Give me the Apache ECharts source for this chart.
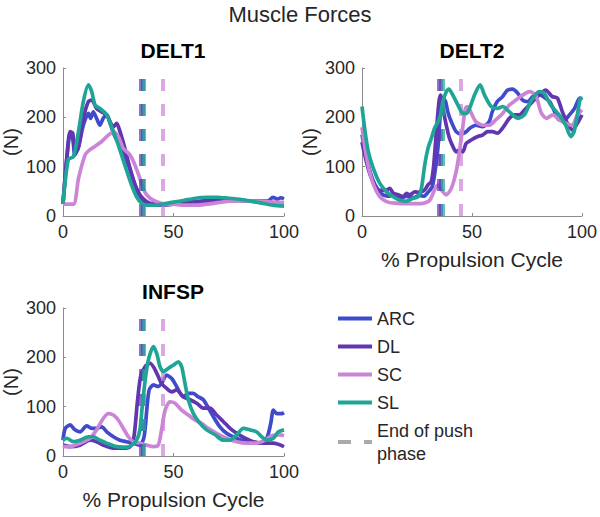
<!DOCTYPE html>
<html>
<head>
<meta charset="utf-8">
<title>Muscle Forces</title>
<script src="https://cdn.jsdelivr.net/npm/echarts@6/dist/echarts.min.js"></script>
<style>
  html, body { margin: 0; padding: 0; background: #fff; }
  #main { width: 600px; height: 517px; }
</style>
</head>
<body>
<div id="main"></div>
<script>
// values: [% propulsion cycle, force (N)]
var muscles = ['DELT1', 'DELT2', 'INFSP'];
var groups = ['ARC', 'DL', 'SC', 'SL'];
var xTicks = [0, 50, 100];
var yTicks = [0, 100, 200, 300];

// end of push phase (% cycle) per group
var pushEnd = [36, 35, 45, 36.5];

var delt1ARC = [[0,24],[1.7,115],[3.2,164],[4.3,160],[5.4,124],[7,140],[9.2,184],[11.5,208],[12.5,198],[13.7,211],[15.2,198],[16.7,184],[18.2,198],[19.8,205],[21.3,188],[23.5,161],[26.5,137],[29.6,103],[32.6,63],[34.8,39],[37,29],[40,24],[45,22],[50,24],[55,26],[60,28],[65,30],[70,30],[75,31],[80,31],[85,30],[90,30],[93,31],[95,38],[97,34],[98.5,37],[100,35]];
var delt1DL = [[0,26],[1.7,117],[3.2,171],[4.4,168],[5.4,130],[6.9,137],[9.2,198],[11.5,232],[13,235],[15.2,218],[17.5,211],[19.8,205],[21.3,191],[22.8,181],[24.3,188],[25.8,171],[28,137],[30.3,97],[32.6,63],[34.8,43],[37,32],[39.4,26],[45,23],[50,24],[55,27],[60,29],[65,31],[70,32],[75,32],[80,32],[85,30],[90,28],[95,27],[100,25]];
var delt1SC = [[0,24],[4.7,24],[7,76],[10,124],[12.1,134],[14.4,141],[17.5,151],[20.5,164],[22.8,170],[25,161],[27.3,137],[30.3,124],[32.6,103],[34.8,76],[37,49],[39.4,36],[42.4,29],[45,25],[50,24],[55,22],[60,22],[65,24],[70,27],[75,30],[80,31],[85,30],[90,29],[95,28],[100,27]];
var delt1SL = [[0,25],[2.4,115],[4.7,120],[7,171],[9.2,232],[11.5,266],[13,252],[14.5,225],[16.7,218],[19.8,205],[22,181],[25,144],[28,103],[31,63],[33.3,39],[35.6,26],[38,22],[42,22],[45,24],[50,28],[55,32],[60,36],[65,38],[70,38],[75,36],[80,34],[85,30],[90,26],[95,22],[100,20]];

var delt2ARC = [[0,165],[2,120],[4,85],[6,62],[8,48],[10,42],[12,40],[14,42],[16,38],[18,36],[20,40],[22,38],[24,38],[26,42],[28,40],[30,48],[32,60],[33.5,100],[34.5,137],[35.6,205],[36.8,239],[38,232],[39,211],[40.6,191],[42.8,171],[45.1,166],[47.4,171],[49,178],[51.8,184],[54.8,181],[57.8,191],[59.2,211],[61.5,232],[63.9,242],[66.1,255],[68.4,257],[70.8,249],[73,235],[75.3,232],[77.6,242],[80,249],[82.3,242],[85.3,232],[87.6,211],[89.6,195],[92.1,195],[94.3,205],[96.6,218],[99,239],[100,238]];
var delt2DL = [[0,150],[2,110],[4,80],[6,62],[8,52],[11.2,53],[12.7,56],[14.2,46],[16.4,43],[18.7,39],[20.2,46],[21.7,43],[24,49],[26.2,48],[28.5,53],[30,63],[31.5,70],[32.6,103],[33.8,171],[35,232],[35.7,245],[36.8,218],[38.3,184],[39.8,157],[41.3,141],[42.8,130],[44.3,134],[45.8,130],[47.3,147],[49.6,154],[52.6,161],[54.8,164],[57.1,171],[59.3,171],[61.6,168],[63.9,178],[67,198],[69.3,205],[71.5,205],[74.5,218],[77.6,232],[80.5,245],[83.5,255],[86.5,242],[88.8,239],[91.1,211],[93.4,188],[95.7,174],[97.9,188],[100,205]];
var delt2SC = [[0,180],[2,120],[4,80],[6,55],[8,40],[10,32],[12,28],[15,26],[20,25],[25,25],[28,26],[30.8,32],[33,53],[34.5,63],[36.8,49],[38.3,43],[40.6,56],[42.8,90],[44.3,130],[45.9,184],[47,218],[48,222],[49.5,210],[51.8,191],[54.8,184],[57.8,184],[60.8,195],[63.9,208],[67,225],[70,235],[73,245],[76.1,252],[79,245],[81.3,211],[83.8,198],[86.8,205],[89.6,195],[92.6,188],[95.6,184],[97.9,205],[100,215]];
var delt2SL = [[0,222],[1.4,171],[2.9,130],[5.1,97],[8.1,66],[11.2,49],[14.2,39],[17.2,32],[20.2,30],[23.2,36],[25.5,39],[27,56],[28.5,103],[30,137],[31.5,157],[33,178],[35.3,198],[36.8,232],[38.3,252],[39.5,257],[41.3,245],[43.6,225],[45.9,208],[47.5,208],[48.9,218],[51.1,245],[53.7,266],[55.7,245],[58.7,222],[61.7,218],[64,222],[67,211],[70.8,198],[73.8,205],[76.8,232],[80.5,252],[82.8,249],[85.8,225],[89.6,205],[92.6,184],[94.9,161],[96.4,171],[97.9,205],[99.4,239],[100,235]];

var infspARC = [[0,32],[1,56],[3.2,63],[5.4,53],[7.7,49],[10.7,61],[13,56],[15.2,56],[17.5,59],[19.8,49],[22.8,39],[25.8,32],[28.8,29],[31.8,26],[34.8,22],[36.7,39],[37.9,93],[39,134],[40.9,144],[43.1,141],[44.6,147],[46.9,164],[49.2,157],[51.4,141],[54.4,120],[56.7,127],[59,127],[61.2,120],[63.5,114],[65.8,97],[68,80],[71,59],[74,46],[77,39],[80.8,32],[84.6,29],[89.1,26],[92.2,36],[94,66],[95.2,93],[96.7,86],[99,86],[100,88]];
var infspDL = [[0,22],[3.2,19],[7.7,22],[12.2,32],[15.2,29],[18.2,22],[22.8,16],[27.3,16],[30.3,19],[32.1,39],[33.6,107],[35.1,161],[37.1,181],[39.4,188],[41.3,178],[43.1,161],[44.6,147],[46.9,137],[49.2,130],[51.4,134],[54.4,120],[57.5,114],[60.5,107],[63.5,97],[66.5,97],[69.5,83],[72.5,70],[75.6,56],[78.6,46],[82.4,36],[86.1,29],[90.6,26],[95.2,26],[100,19]];
var infspSC = [[0,19],[3.2,19],[7.7,26],[12.2,36],[15.2,53],[18.2,76],[20.5,86],[22.8,83],[25,73],[27.3,56],[29.6,39],[31.8,29],[34.8,26],[37.9,22],[40.9,19],[43.1,22],[44.6,53],[46.2,93],[48.4,110],[50.7,107],[53.7,93],[56.7,83],[59.7,73],[62.7,66],[65.8,56],[69.5,46],[74,36],[78.6,29],[83.1,26],[87.6,26],[91.4,32],[94.4,41],[98.2,43],[100,41]];
var infspSL = [[0,32],[1.7,36],[4.7,29],[7.7,32],[11.5,39],[13.7,39],[16.7,32],[19.8,26],[24.3,19],[28.8,18],[31.1,22],[33.3,32],[34.8,53],[36,107],[37.6,168],[39,201],[40.9,222],[42.4,208],[43.9,181],[45.4,171],[47.7,178],[49.9,184],[52.2,191],[53.7,181],[55.2,147],[56.7,114],[59,86],[62,66],[65,53],[68.8,43],[72.5,32],[75.6,32],[78.6,43],[81.6,56],[84.6,53],[87.6,49],[89.9,39],[92.2,32],[95.2,36],[97.4,49],[100,53]];

var panelData = [
  [delt1ARC, delt1DL, delt1SC, delt1SL],
  [delt2ARC, delt2DL, delt2SC, delt2SL],
  [infspARC, infspDL, infspSC, infspSL]
];

var colors = ['#3f4bcc', '#6236b0', '#cc85d6', '#1fa595'];
var FONT = 'Liberation Sans';
var TXT = '#262626';
var AX = '#8c8c8c';
var PUSH = 'End of push\nphase';

var myChart = echarts.init(document.getElementById('main'), null, { renderer: 'svg' });

var grids = [
  { left: 63, top: 68, width: 221, height: 148 },
  { left: 362, top: 68, width: 221, height: 148 },
  { left: 63, top: 308, width: 221, height: 148 }
];
// title centres
var titlePos = [[173, 50], [472, 50], [173, 291]];

var xAxes = [], yAxes = [], series = [], graphics = [];

graphics.push({
  type: 'text', x: 300, y: 14,
  style: { text: 'Muscle Forces', font: '22px ' + FONT, fill: TXT, align: 'center', verticalAlign: 'middle' }
});

for (var i = 0; i < 3; i++) {
  graphics.push({
    type: 'text', x: titlePos[i][0], y: titlePos[i][1],
    style: { text: muscles[i], font: 'bold 21px ' + FONT, fill: '#000', align: 'center', verticalAlign: 'middle' }
  });

  xAxes.push({
    gridIndex: i, type: 'value',
    min: xTicks[0], max: xTicks[xTicks.length - 1], interval: xTicks[1] - xTicks[0],
    name: i > 0 ? '% Propulsion Cycle' : '',
    nameLocation: 'middle', nameGap: 33,
    nameTextStyle: { fontSize: 21, fontFamily: FONT, color: TXT },
    axisLine: { lineStyle: { color: AX, width: 1 } },
    axisTick: { inside: true, length: 3, lineStyle: { color: AX } },
    splitLine: { show: false },
    axisLabel: { fontSize: 18, fontFamily: FONT, color: TXT, margin: 7 }
  });

  yAxes.push({
    gridIndex: i, type: 'value',
    min: yTicks[0], max: yTicks[yTicks.length - 1], interval: yTicks[1] - yTicks[0],
    name: '(N)', nameLocation: 'middle', nameGap: 42,
    nameTextStyle: { fontSize: 20, fontFamily: FONT, color: TXT },
    axisLine: { show: true, lineStyle: { color: AX, width: 1 } },
    axisTick: { show: true, inside: true, length: 3, lineStyle: { color: AX } },
    splitLine: { show: false },
    axisLabel: { fontSize: 18, fontFamily: FONT, color: TXT, margin: 7 }
  });

  for (var g = 0; g < groups.length; g++) {
    series.push({
      type: 'line', name: groups[g],
      xAxisIndex: i, yAxisIndex: i,
      data: panelData[i][g],
      symbol: 'none', smooth: 0.25,
      lineStyle: { width: 3.7, color: colors[g] },
      itemStyle: { color: colors[g] },
      z: 2 + g,
      markLine: {
        silent: true, symbol: 'none', animation: false,
        label: { show: false },
        lineStyle: { type: [12, 13], width: 4, color: colors[g], opacity: 0.7 },
        data: [{ xAxis: pushEnd[g] }]
      }
    });
  }
}

// legend-only entry for the dashed lines
series.push({
  type: 'line', name: PUSH, xAxisIndex: 2, yAxisIndex: 2, data: [],
  symbol: 'none', lineStyle: { color: '#aaaaaa' }, itemStyle: { color: '#aaaaaa' }
});

var legendData = groups.map(function (n) { return { name: n, icon: 'rect' }; });
legendData.push({ name: PUSH, icon: 'path://M0,0h13v4h-13z M26,0h8v4h-8z' });

var option = {
  animation: false,
  color: colors,
  grid: grids,
  xAxis: xAxes,
  yAxis: yAxes,
  graphic: graphics,
  legend: {
    orient: 'vertical', left: 333, top: 302,
    itemWidth: 34, itemHeight: 4, itemGap: 5,
    selectedMode: false,
    data: legendData,
    textStyle: { fontSize: 18, fontFamily: FONT, color: TXT, lineHeight: 23 }
  },
  series: series
};

myChart.setOption(option);
</script>
</body>
</html>
